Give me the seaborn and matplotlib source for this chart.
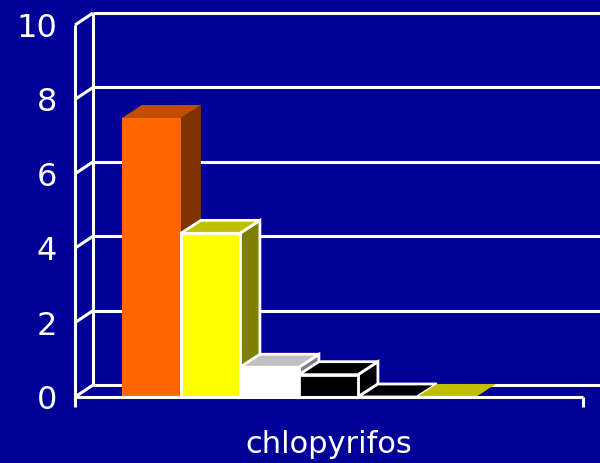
import numpy as np
import pandas as pd
import matplotlib
matplotlib.use("Agg")
import matplotlib.pyplot as plt
from matplotlib.patches import Polygon
from matplotlib.transforms import ScaledTranslation
import seaborn as sns

# ---- data ----
category = "chlopyrifos"
series = ["series 1", "series 2", "series 3", "series 4", "series 5", "series 6"]
values = [7.5, 4.4, 0.8, 0.6, 0.0, 0.0]
y_ticks = [0, 2, 4, 6, 8, 10]

front_colors = ["#FF6600", "#FFFF00", "#FFFFFF", "#000000", "#000000", "#FFFF00"]
top_colors = ["#C04D00", "#C0C000", "#C0C0C0", "#000000", "#000000", "#C0C000"]
side_colors = ["#803300", "#808000", "#808080", "#000000", "#000000", "#808000"]
outlined = [False, True, True, True, True, False]

BG = "#000099"
LINE = "white"

sns.set_theme(style="white")
plt.rcParams["font.family"] = ["DejaVu Sans"]

df = pd.DataFrame({"chemical": [category] * len(series), "series": series, "value": values})

fig = plt.figure(figsize=(6, 4.63), dpi=100, facecolor=BG)
# axes = the front plane of the 3D box (pixels 75..583 x, 25..397 y)
ax = fig.add_axes([75 / 600, 66 / 463, 508 / 600, 372 / 463])
ax.set_facecolor("none")

sns.barplot(data=df, x="chemical", y="value", hue="series", palette=front_colors,
            saturation=1, width=0.8, dodge=True, legend=False, ax=ax, linewidth=0)

x0, x1 = -0.506, 0.642
ax.set_xlim(x0, x1)
ax.set_ylim(0, 10)
sx = 508 / (x1 - x0)   # px per x unit
sy = 372 / 10          # px per y unit

# depth offsets in data units
wdx, wdy = 18 / sx, 12 / sy
bdx, bdy = 20 / sx, 13 / sy

kw = dict(color=LINE, lw=2.2, clip_on=False, solid_capstyle="butt")
# left wall + back gridlines
for t in y_ticks:
    ax.plot([x0, x0 + wdx], [t, t + wdy], zorder=1, **kw)
    ax.plot([x0 + wdx, x1 + wdx], [t + wdy, t + wdy], zorder=1, **kw)
ax.plot([x0 + wdx, x0 + wdx], [wdy, 10 + wdy], zorder=1, **kw)
ax.plot([x0, x0], [-10 / sy, 10], zorder=1, **kw)

# 3D bars: side, top, front drawn left to right
bars = sorted(ax.patches, key=lambda p: p.get_x())
for i, p in enumerate(bars):
    xa = p.get_x()
    xb = xa + p.get_width()
    h = p.get_height()
    ec = LINE if outlined[i] else "none"
    lw = 2 if outlined[i] else 0
    z = 4 + i * 3
    side = Polygon([(xb, 0), (xb + bdx, bdy), (xb + bdx, h + bdy), (xb, h)],
                   closed=True, facecolor=side_colors[i], edgecolor=ec, lw=lw,
                   zorder=z, clip_on=False, joinstyle="miter")
    top = Polygon([(xa, h), (xb, h), (xb + bdx, h + bdy), (xa + bdx, h + bdy)],
                  closed=True, facecolor=top_colors[i], edgecolor=ec, lw=lw,
                  zorder=z + 1, clip_on=False, joinstyle="miter")
    ax.add_patch(side)
    ax.add_patch(top)
    p.set_edgecolor(ec)
    p.set_linewidth(lw)
    p.set_zorder(z + 2)
    p.set_clip_on(False)

# front floor edge and right tick
ax.plot([x0, x1], [0, 0], zorder=30, **kw)
ax.plot([x1, x1], [0, -10 / sy], zorder=30, **kw)

ax.set_yticks(y_ticks)
ax.tick_params(axis="y", length=0, pad=13, labelsize=23, labelcolor="white")
ax.tick_params(axis="x", length=0, pad=24, labelsize=22, labelcolor="white")
for lab in ax.get_xticklabels():
    lab.set_transform(lab.get_transform() + ScaledTranslation(30 / 100, 0, fig.dpi_scale_trans))
ax.set_xlabel("")
ax.set_ylabel("")
for s in ax.spines.values():
    s.set_visible(False)

fig.savefig("out.png", dpi=100, facecolor=BG)
